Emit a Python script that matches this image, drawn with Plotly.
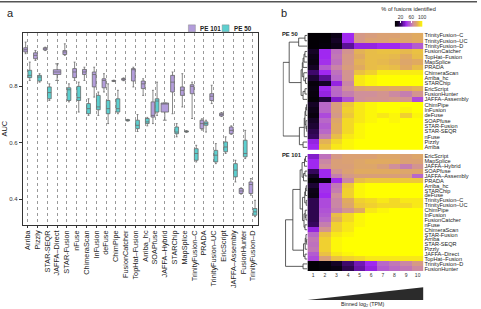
import plotly.graph_objects as go

W, H = 481, 309
FONT = "Liberation Sans, Arial, sans-serif"

# ---------------- panel a data (AUC box statistics) ----------------
tools = ["Arriba", "Pizzly", "STAR-SEQR", "JAFFA–Direct", "STAR-Fusion", "nFuse",
         "ChimeraScan", "InFusion", "deFuse", "ChimPipe", "FusionCatcher",
         "TopHat–Fusion", "Arriba_hc", "SOAPfuse", "JAFFA–Hybrid", "STARChip",
         "MapSplice", "TrinityFusion–C", "PRADA", "TrinityFusion–UC", "EricScript",
         "JAFFA–Assembly", "FusionHunter", "TrinityFusion–D"]

pe101_q1  = [0.922, 0.898, 0.929, 0.842, 0.913, 0.831, 0.842, 0.798, 0.795, 0.818, 0.822, 0.819, 0.792, 0.691, 0.709, 0.780, 0.768, 0.774, 0.650, 0.750, 0.695, 0.632, 0.420, 0.420]
pe101_med = [0.930, 0.910, 0.933, 0.851, 0.922, 0.851, 0.851, 0.842, 0.821, 0.819, 0.825, 0.859, 0.809, 0.697, 0.739, 0.815, 0.786, 0.800, 0.668, 0.765, 0.700, 0.644, 0.429, 0.452]
pe101_q3  = [0.937, 0.919, 0.937, 0.859, 0.927, 0.863, 0.860, 0.851, 0.827, 0.821, 0.828, 0.863, 0.819, 0.745, 0.741, 0.839, 0.798, 0.806, 0.680, 0.774, 0.705, 0.656, 0.438, 0.461]
pe101_lo  = [0.916, 0.892, 0.927, 0.821, 0.910, 0.821, 0.821, 0.762, 0.780, 0.817, 0.820, 0.798, 0.768, 0.668, 0.680, 0.703, 0.727, 0.686, 0.645, 0.739, 0.693, 0.630, 0.418, 0.414]
pe101_hi  = [0.957, 0.927, 0.939, 0.880, 0.951, 0.886, 0.868, 0.868, 0.845, 0.822, 0.830, 0.868, 0.827, 0.786, 0.741, 0.851, 0.845, 0.815, 0.685, 0.804, 0.707, 0.660, 0.440, 0.473]

pe50_q1  = [0.831, 0.819, 0.756, None, 0.750, 0.750, 0.703, 0.717, 0.703, 0.709, 0.678, 0.650, 0.668, 0.709, None, 0.632, 0.638, 0.538, 0.662, 0.532, 0.568, 0.479, 0.550, 0.343]
pe50_med = [0.839, 0.833, 0.778, None, 0.788, 0.760, 0.721, 0.727, 0.721, 0.721, 0.680, 0.662, 0.674, 0.748, None, 0.638, 0.640, 0.562, 0.668, 0.556, 0.585, 0.503, 0.562, 0.355]
pe50_q3  = [0.857, 0.839, 0.798, None, 0.795, 0.800, 0.739, 0.768, 0.750, 0.756, 0.682, 0.680, 0.686, 0.756, None, 0.656, 0.642, 0.579, 0.674, 0.573, 0.603, 0.526, 0.609, 0.367]
pe50_lo  = [0.821, 0.815, 0.750, None, 0.745, 0.709, 0.697, 0.697, 0.668, 0.703, 0.677, 0.640, 0.660, 0.697, None, 0.621, 0.637, 0.532, 0.638, 0.526, 0.562, 0.461, 0.544, 0.338]
pe50_hi  = [0.886, 0.845, 0.809, None, 0.809, 0.815, 0.756, 0.780, 0.809, 0.786, 0.683, 0.700, 0.690, 0.815, None, 0.668, 0.643, 0.591, 0.680, 0.597, 0.621, 0.538, 0.644, 0.396]

auc_ticks = [0.4, 0.6, 0.8]
series_names = ["PE 101", "PE 50"]

# ---------------- panel b data (% of fusions identified per TPM bin) ----------------
bins = [1, 2, 3, 4, 5, 6, 7, 8, 9, 10]

pe50_rows = ["TrinityFusion–C", "TrinityFusion–UC", "TrinityFusion–D", "FusionCatcher",
             "TopHat–Fusion", "MapSplice", "PRADA", "ChimeraScan", "Arriba_hc", "STARChip",
             "EricScript", "FusionHunter", "JAFFA–Assembly", "ChimPipe", "InFusion", "deFuse",
             "SOAPfuse", "STAR-Fusion", "STAR-SEQR", "nFuse", "Pizzly", "Arriba"]
pe50_pct = [
    [2, 2, 10, 40, 72, 74, 76, 76, 78, 80],
    [2, 3, 12, 40, 72, 76, 76, 78, 78, 80],
    [2, 4, 10, 28, 38, 38, 40, 40, 45, 52],
    [12, 40, 58, 70, 82, 85, 86, 86, 84, 86],
    [10, 40, 60, 72, 80, 85, 85, 84, 80, 85],
    [8, 42, 58, 72, 82, 85, 84, 82, 78, 80],
    [12, 52, 64, 74, 80, 85, 86, 85, 80, 85],
    [22, 40, 58, 70, 86, 90, 96, 96, 96, 96],
    [14, 28, 55, 70, 95, 98, 100, 100, 100, 100],
    [5, 12, 38, 65, 95, 98, 100, 100, 100, 100],
    [8, 40, 56, 68, 76, 78, 78, 80, 80, 82],
    [6, 38, 55, 62, 68, 68, 70, 66, 62, 70],
    [3, 15, 35, 50, 68, 70, 70, 72, 70, 48],
    [12, 55, 74, 88, 95, 98, 100, 100, 100, 100],
    [10, 55, 74, 90, 95, 98, 100, 100, 98, 100],
    [6, 48, 72, 88, 95, 98, 95, 98, 90, 98],
    [12, 55, 78, 92, 95, 98, 100, 98, 100, 100],
    [14, 52, 80, 92, 98, 100, 100, 100, 100, 100],
    [18, 55, 80, 92, 98, 100, 100, 100, 100, 100],
    [20, 62, 85, 95, 98, 100, 100, 100, 100, 100],
    [38, 82, 92, 98, 100, 100, 100, 100, 100, 100],
    [40, 86, 95, 98, 100, 100, 100, 100, 100, 100],
]

pe101_rows = ["EricScript", "MapSplice", "JAFFA–Hybrid", "SOAPfuse", "JAFFA–Assembly", "PRADA",
              "Arriba_hc", "STARChip", "deFuse", "TrinityFusion–C", "TrinityFusion–UC", "ChimPipe",
              "InFusion", "FusionCatcher", "nFuse", "ChimeraScan", "STAR-Fusion", "Arriba",
              "STAR-SEQR", "Pizzly", "JAFFA–Direct", "TopHat–Fusion", "TrinityFusion–D", "FusionHunter"]
pe101_pct = [
    [35, 58, 72, 76, 76, 76, 78, 78, 76, 78],
    [40, 65, 75, 76, 78, 80, 80, 80, 76, 76],
    [40, 68, 75, 75, 78, 78, 75, 68, 62, 70],
    [20, 40, 70, 76, 80, 80, 80, 80, 78, 78],
    [12, 40, 62, 72, 75, 75, 75, 75, 74, 55],
    [2, 8, 40, 65, 85, 88, 88, 88, 88, 88],
    [14, 42, 60, 88, 98, 100, 100, 100, 100, 100],
    [10, 42, 62, 90, 98, 100, 100, 100, 100, 100],
    [8, 40, 68, 90, 98, 100, 100, 100, 100, 100],
    [18, 48, 65, 80, 90, 92, 95, 92, 95, 95],
    [18, 48, 65, 78, 88, 90, 92, 92, 92, 95],
    [18, 50, 62, 70, 80, 95, 98, 100, 100, 100],
    [18, 52, 85, 92, 98, 100, 100, 100, 100, 100],
    [18, 55, 82, 92, 98, 100, 100, 100, 100, 100],
    [20, 62, 90, 95, 98, 100, 100, 100, 100, 100],
    [38, 70, 90, 95, 100, 100, 100, 100, 100, 100],
    [55, 86, 95, 98, 100, 100, 100, 100, 100, 100],
    [60, 90, 98, 100, 100, 100, 100, 100, 100, 100],
    [58, 90, 98, 100, 100, 100, 100, 100, 100, 100],
    [60, 90, 98, 100, 100, 100, 100, 100, 100, 100],
    [52, 86, 95, 98, 100, 100, 100, 100, 100, 100],
    [48, 75, 86, 90, 92, 95, 95, 95, 95, 95],
    [2, 5, 12, 22, 32, 40, 55, 60, 65, 72],
    [2, 4, 8, 18, 30, 38, 52, 56, 60, 66],
]

# hierarchical clustering trees: (merge height, left, right)
pe50_tree = (10.0,
             (7.5, (3.6, (1.0, "TrinityFusion–C", "TrinityFusion–UC"), "TrinityFusion–D"),
                   (2.6, (2.1, (1.8, (1.4, (1.0, "FusionCatcher", "TopHat–Fusion"), "MapSplice"), "PRADA"),
                               (1.5, "ChimeraScan", (0.8, "Arriba_hc", "STARChip"))),
                         (1.8, (1.0, "EricScript", "FusionHunter"), "JAFFA–Assembly"))),
             (3.3, (1.3, (1.0, (0.7, (0.4, "ChimPipe", "InFusion"), "deFuse"),
                               (0.6, "SOAPfuse", (0.3, "STAR-Fusion", "STAR-SEQR"))), "nFuse"),
                   (1.8, "Pizzly", "Arriba")))

pe101_tree = (9.0,
              (6.0, (3.0, (2.2, (1.2, (0.8, "EricScript", "MapSplice"), "JAFFA–Hybrid"),
                                (1.6, (1.0, "SOAPfuse", "JAFFA–Assembly"), "PRADA")),
                          (2.0, (1.1, (0.8, (0.5, "Arriba_hc", "STARChip"), "deFuse"),
                                      (0.5, "TrinityFusion–C", "TrinityFusion–UC")),
                                (1.4, (0.9, "ChimPipe", (0.6, "InFusion", "FusionCatcher")),
                                      (1.0, "nFuse", "ChimeraScan")))),
                    (1.6, (0.9, (0.6, "STAR-Fusion", (0.3, "Arriba", "STAR-SEQR")), "Pizzly"),
                          (1.0, "JAFFA–Direct", "TopHat–Fusion"))),
              (1.8, "TrinityFusion–D", "FusionHunter"))

cbar_ticks = [20, 60, 100]

# ---------------- helpers ----------------
def fx(p):
    return p / W


def fy(p):
    return 1 - p / H


PURPLE = "#b39ddb"
TEAL = "#5ccfcf"
cscale = [[0.0, "#000000"], [0.1, "#0d0218"], [0.25, "#4a0a80"], [0.4, "#a028f0"],
          [0.55, "#b868c8"], [0.68, "#d0909a"], [0.8, "#e0aa60"], [0.9, "#f0d030"],
          [1.0, "#ffff00"]]


def dendro_lines(tree, names):
    xs, ys = [], []

    def walk(node):
        if isinstance(node, str):
            return names.index(node), 0.0
        h, l, r = node
        yl, hl = walk(l)
        yr, hr = walk(r)
        xs.extend([hl, h, h, hr, None])
        ys.extend([yl, yl, yr, yr, None])
        return (yl + yr) / 2, h

    walk(tree)
    return xs, ys


fig = go.Figure()

# ---------------- panel a boxes ----------------
single = [t for t, v in zip(tools, pe50_med) if v is None]
pair_idx = [i for i, t in enumerate(tools) if t not in single]
single_idx = [i for i, t in enumerate(tools) if t in single]


def pick(arr, idx):
    return [arr[i] for i in idx]


box_line = dict(color="#6a6a6a", width=0.8)
fig.add_trace(go.Box(
    name=series_names[0], x=pick(tools, pair_idx), q1=pick(pe101_q1, pair_idx),
    median=pick(pe101_med, pair_idx), q3=pick(pe101_q3, pair_idx),
    lowerfence=pick(pe101_lo, pair_idx), upperfence=pick(pe101_hi, pair_idx),
    fillcolor=PURPLE, line=box_line, offsetgroup="p", alignmentgroup="a",
    xaxis="x", yaxis="y", showlegend=False))
fig.add_trace(go.Box(
    name=series_names[1], x=pick(tools, pair_idx), q1=pick(pe50_q1, pair_idx),
    median=pick(pe50_med, pair_idx), q3=pick(pe50_q3, pair_idx),
    lowerfence=pick(pe50_lo, pair_idx), upperfence=pick(pe50_hi, pair_idx),
    fillcolor=TEAL, line=box_line, offsetgroup="t", alignmentgroup="a",
    xaxis="x", yaxis="y", showlegend=False))
fig.add_trace(go.Box(
    name=series_names[0], x=pick(tools, single_idx), q1=pick(pe101_q1, single_idx),
    median=pick(pe101_med, single_idx), q3=pick(pe101_q3, single_idx),
    lowerfence=pick(pe101_lo, single_idx), upperfence=pick(pe101_hi, single_idx),
    fillcolor=PURPLE, line=box_line, offsetgroup="w", alignmentgroup="b",
    xaxis="x", yaxis="y", showlegend=False))

# ---------------- panel b heatmaps ----------------
fig.add_trace(go.Heatmap(z=pe50_pct, x=bins, y=list(range(len(pe50_rows))),
                         zmin=0, zmax=100, colorscale=cscale, showscale=False,
                         xaxis="x2", yaxis="y2"))
fig.add_trace(go.Heatmap(z=pe101_pct, x=bins, y=list(range(len(pe101_rows))),
                         zmin=0, zmax=100, colorscale=cscale, showscale=False,
                         xaxis="x3", yaxis="y3"))

dx, dy = dendro_lines(pe50_tree, pe50_rows)
fig.add_trace(go.Scatter(x=dx, y=dy, mode="lines", line=dict(color="#333", width=0.8),
                         xaxis="x4", yaxis="y4", showlegend=False, hoverinfo="skip"))
dx, dy = dendro_lines(pe101_tree, pe101_rows)
fig.add_trace(go.Scatter(x=dx, y=dy, mode="lines", line=dict(color="#333", width=0.8),
                         xaxis="x5", yaxis="y5", showlegend=False, hoverinfo="skip"))

# colour key
key_vals = list(range(0, 101, 2))
fig.add_trace(go.Heatmap(z=[key_vals], x=key_vals, y=[0], zmin=0, zmax=100,
                         colorscale=cscale, showscale=False, xaxis="x6", yaxis="y6"))

# ---------------- layout ----------------
tickf = dict(family=FONT, size=7.3, color="#222")
lay = dict(
    width=W, height=H, margin=dict(l=0, r=0, t=0, b=0),
    paper_bgcolor="white", plot_bgcolor="white",
    font=dict(family=FONT, size=6, color="#222"),
    boxmode="group", boxgap=0.15, boxgroupgap=0.1,
    showlegend=False,
    xaxis=dict(domain=[fx(23), fx(260)], type="category", categoryorder="array",
               categoryarray=tools, tickangle=-90, tickfont=tickf,
               showline=True, mirror=True, linecolor="#333", linewidth=1,
               showgrid=True, gridcolor="#9a9a9a", griddash="dot", gridwidth=0.8,
               ticks="outside", ticklen=2, tickcolor="#333", anchor="y", fixedrange=True),
    yaxis=dict(domain=[fy(225), fy(32)], range=[0.31, 0.99], tickvals=auc_ticks,
               ticktext=[f"{v:.1f}" for v in auc_ticks], tickfont=dict(family=FONT, size=6, color="#333"),
               showline=True, mirror=True, linecolor="#333", linewidth=1,
               showgrid=False, zeroline=False, ticks="outside", ticklen=3, tickcolor="#333",
               title=dict(text="AUC", font=dict(family=FONT, size=7.5, color="#222"), standoff=4),
               anchor="x"),
    xaxis2=dict(domain=[fx(310), fx(427)], range=[0.5, 10.5], showticklabels=False,
                showgrid=False, zeroline=False, anchor="y2"),
    yaxis2=dict(domain=[fy(150), fy(32)], range=[len(pe50_rows) - 0.5, -0.5],
                tickvals=list(range(len(pe50_rows))), ticktext=pe50_rows, side="right",
                tickfont=dict(family=FONT, size=5.6, color="#222"), showgrid=False,
                zeroline=False, ticks="", anchor="x2"),
    xaxis3=dict(domain=[fx(310), fx(427)], range=[0.5, 10.5], tickvals=bins,
                tickfont=dict(family=FONT, size=5, color="#333"), showgrid=False,
                zeroline=False, ticks="", anchor="y3"),
    yaxis3=dict(domain=[fy(272), fy(154)], range=[len(pe101_rows) - 0.5, -0.5],
                tickvals=list(range(len(pe101_rows))), ticktext=pe101_rows, side="right",
                tickfont=dict(family=FONT, size=5.6, color="#222"), showgrid=False,
                zeroline=False, ticks="", anchor="x3"),
    xaxis4=dict(domain=[fx(285), fx(310)], range=[10.2, 0], visible=False, anchor="y4"),
    yaxis4=dict(domain=[fy(150), fy(32)], range=[len(pe50_rows) - 0.5, -0.5],
                visible=False, anchor="x4"),
    xaxis5=dict(domain=[fx(285), fx(310)], range=[10.2, 0], visible=False, anchor="y5"),
    yaxis5=dict(domain=[fy(272), fy(154)], range=[len(pe101_rows) - 0.5, -0.5],
                visible=False, anchor="x5"),
    xaxis6=dict(domain=[fx(398), fx(426)], range=[-1, 101], side="top", tickvals=cbar_ticks,
                tickfont=dict(family=FONT, size=5, color="#333"), ticks="inside", ticklen=2,
                tickcolor="white", showgrid=False, zeroline=False, anchor="y6",
                title=dict(text="% of fusions identified", font=dict(family=FONT, size=5.6, color="#222"),
                           standoff=1)),
    yaxis6=dict(domain=[fy(26), fy(20)], visible=False, anchor="x6"),
)
fig.update_layout(**lay)

# manual legend (key swatches + labels) placed above panel a
legend_x = [190, 224]
legend_cols = [PURPLE, TEAL]
shapes = []
ann = []
for nm, lx, col in zip(series_names, legend_x, legend_cols):
    shapes.append(dict(type="rect", xref="paper", yref="paper",
                       x0=fx(lx), x1=fx(lx + 7), y0=fy(31), y1=fy(24),
                       fillcolor=col, line=dict(color="#8a8a8a", width=0.5)))
    ann.append(dict(text=f"<b>{nm}</b>", x=fx(lx + 9.5), y=fy(27.5), xref="paper", yref="paper",
                    showarrow=False, xanchor="left", yanchor="middle",
                    font=dict(family=FONT, size=6.3, color="#222")))

ann += [
    dict(text="a", x=fx(5), y=fy(12), xref="paper", yref="paper", showarrow=False,
         xanchor="left", yanchor="middle", font=dict(family=FONT, size=11, color="#222")),
    dict(text="b", x=fx(281), y=fy(12), xref="paper", yref="paper", showarrow=False,
         xanchor="left", yanchor="middle", font=dict(family=FONT, size=11, color="#222")),
    dict(text="<b>PE 50</b>", x=fx(282), y=fy(33), xref="paper", yref="paper", showarrow=False,
         xanchor="left", yanchor="middle", font=dict(family=FONT, size=5.8, color="#222")),
    dict(text="<b>PE 101</b>", x=fx(282), y=fy(155), xref="paper", yref="paper", showarrow=False,
         xanchor="left", yanchor="middle", font=dict(family=FONT, size=5.8, color="#222")),
    dict(text="Binned log<sub>2</sub> (TPM)", x=fx(366), y=fy(305), xref="paper", yref="paper",
         showarrow=False, xanchor="center", yanchor="middle",
         font=dict(family=FONT, size=5.3, color="#222")),
]
fig.update_layout(annotations=ann)

shapes += [
    dict(type="path", xref="x3", yref="paper",
         path=f"M 0.5,{fy(301)} L 10.5,{fy(301)} L 10.5,{fy(288)} Z",
         fillcolor="#2b2b2b", line=dict(width=0)),
    dict(type="line", xref="paper", yref="paper", x0=0, x1=1, y0=fy(0.8), y1=fy(0.8),
         line=dict(color="#555", width=1.6)),
]
fig.update_layout(shapes=shapes)

fig.write_html("out.html")
